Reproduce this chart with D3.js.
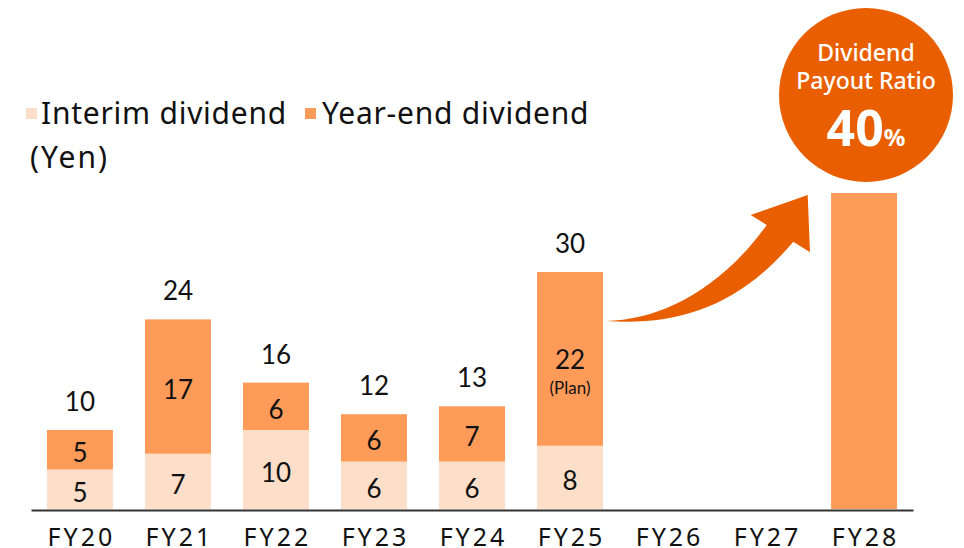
<!DOCTYPE html>
<html>
<head>
<meta charset="utf-8">
<script src="https://cdn.jsdelivr.net/npm/d3@7"></script>
<style>
  body { margin: 0; background: #fff; }
  svg { display: block; }
</style>
</head>
<body>
<svg width="964" height="548"></svg>
<script>
// data (yen per share)
const years = ["FY20", "FY21", "FY22", "FY23", "FY24", "FY25", "FY26", "FY27", "FY28"];
const interim = [5, 7, 10, 6, 6, 8, null, null, null];
const yearEnd = [5, 17, 6, 6, 7, 22, null, null, null];
const notes = ["", "", "", "", "", "(Plan)", "", "", ""];
const target = [null, null, null, null, null, null, null, null, 40];
const legendNames = ["Interim dividend", "Year-end dividend"];
const payoutLines = ["Dividend", "Payout Ratio"];
const payoutRatio = "40";

const cLight = "#fddec8", cMid = "#fe9b59", cDark = "#e95f00";
const numFont = "Lato, 'Noto Sans', sans-serif";
const txtFont = "'Noto Sans', 'DejaVu Sans', sans-serif";

const svg = d3.select("svg");

const x = d3.scaleBand()
  .domain(years)
  .range([31, 913])
  .paddingInner(0.327)
  .paddingOuter(0.163);

const y = d3.scaleLinear().domain([0, 40]).range([509, 193]);

const rows = years.map((yr, i) => ({
  yr, a: interim[i], b: yearEnd[i], note: notes[i], t: target[i]
}));

const g = svg.append("g");

// interim segment
g.selectAll(".interim")
  .data(rows.filter(d => d.a != null))
  .enter().append("rect")
  .attr("x", d => x(d.yr))
  .attr("width", x.bandwidth())
  .attr("y", d => y(d.a))
  .attr("height", d => y(0) - y(d.a))
  .attr("fill", cLight);

// year-end segment
g.selectAll(".yearend")
  .data(rows.filter(d => d.b != null))
  .enter().append("rect")
  .attr("x", d => x(d.yr))
  .attr("width", x.bandwidth())
  .attr("y", d => y(d.a + d.b))
  .attr("height", d => y(d.a) - y(d.a + d.b))
  .attr("fill", cMid);

// FY28 target bar, no label
g.selectAll(".target")
  .data(rows.filter(d => d.t != null))
  .enter().append("rect")
  .attr("x", d => x(d.yr))
  .attr("width", x.bandwidth())
  .attr("y", d => y(d.t))
  .attr("height", d => y(0) - y(d.t))
  .attr("fill", cMid);

const cx = d => x(d.yr) + x.bandwidth() / 2;
const stacked = rows.filter(d => d.a != null);

// labels inside segments
g.selectAll(".lblA")
  .data(stacked).enter().append("text")
  .attr("x", cx)
  .attr("y", d => (y(0) + y(d.a)) / 2 + 3)
  .attr("dy", "0.36em")
  .attr("text-anchor", "middle")
  .style("font", "26px " + numFont)
  .attr("fill", "#111")
  .text(d => d.a);

g.selectAll(".lblB")
  .data(stacked).enter().append("text")
  .attr("x", cx)
  .attr("y", d => (y(d.a) + y(d.a + d.b)) / 2 + (d.note ? 1 : 3))
  .attr("dy", "0.36em")
  .attr("text-anchor", "middle")
  .style("font", "26px " + numFont)
  .attr("fill", "#111")
  .text(d => d.b);

g.selectAll(".note")
  .data(stacked.filter(d => d.note)).enter().append("text")
  .attr("x", cx)
  .attr("y", d => (y(d.a) + y(d.a + d.b)) / 2 + 29)
  .attr("dy", "0.36em")
  .attr("text-anchor", "middle")
  .style("font", "17px " + numFont)
  .attr("fill", "#111")
  .text(d => d.note);

// totals
g.selectAll(".total")
  .data(stacked).enter().append("text")
  .attr("x", cx)
  .attr("y", d => y(d.a + d.b) - 19)
  .attr("text-anchor", "middle")
  .style("font", "26px " + numFont)
  .attr("fill", "#111")
  .text(d => d.a + d.b);

// x axis
const xAxis = svg.append("g")
  .attr("transform", "translate(0,510)")
  .call(d3.axisBottom(x).tickSize(0).tickPadding(18));
xAxis.select(".domain").attr("stroke", "#333").attr("stroke-width", 2);
xAxis.selectAll("text")
  .style("font", "25px " + txtFont)
  .style("letter-spacing", "3px")
  .attr("fill", "#111")
  .attr("dx", "1.5")
  .attr("dy", "0.71em");

// legend
const legend = svg.append("g");
const legX = [26, 305];
const legTextX = [41, 322];
legendNames.forEach((name, i) => {
  legend.append("rect")
    .attr("x", legX[i]).attr("y", 108)
    .attr("width", 11).attr("height", 11)
    .attr("fill", i === 0 ? cLight : cMid);
  legend.append("text")
    .attr("x", legTextX[i]).attr("y", 124)
    .style("font", "30px " + txtFont)
    .style("letter-spacing", "0.75px")
    .attr("fill", "#111")
    .text(name);
});
legend.append("text")
  .attr("x", 30).attr("y", 168)
  .style("font", "30px " + txtFont)
  .style("letter-spacing", "2px")
  .attr("fill", "#111")
  .text("(Yen)");

// curved arrow from FY25 towards FY28
svg.append("path")
  .attr("d", "M606,321 C660,320 720,290 766.7,225 L750.7,215 L807.7,195 L810,252.3 L793.3,241.7 C740,305 680,326 606,321 Z")
  .attr("fill", cDark);

// payout ratio badge
const badge = svg.append("g").attr("transform", "translate(866,95)");
badge.append("circle").attr("r", 87).attr("fill", cDark);
badge.selectAll(".pl")
  .data(payoutLines).enter().append("text")
  .attr("y", (d, i) => -42 + i * 28)
  .attr("dy", "0.36em")
  .attr("text-anchor", "middle")
  .style("font", "500 23px " + txtFont)
  .attr("fill", "#fff")
  .text(d => d);
const pct = badge.append("text")
  .attr("y", 51)
  .attr("text-anchor", "middle")
  .attr("fill", "#fff");
pct.append("tspan").style("font", "bold 50px " + txtFont).text(payoutRatio);
pct.append("tspan").style("font", "bold 24px " + txtFont).text("%");
</script>
</body>
</html>
